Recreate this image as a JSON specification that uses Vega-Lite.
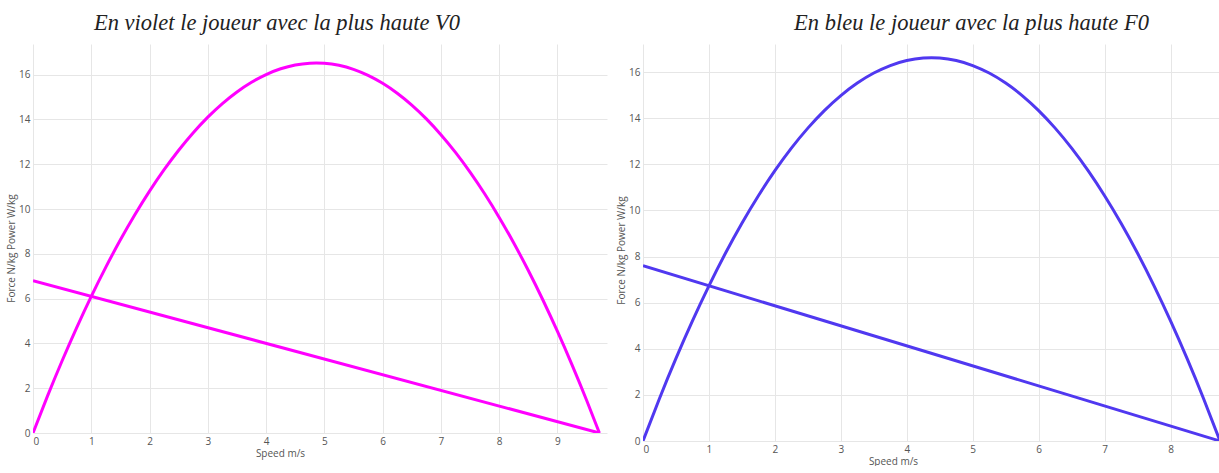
{
  "$schema": "https://vega.github.io/schema/vega-lite/v6.json",
  "background": "white",
  "padding": {"left": 6, "top": 11, "right": 0, "bottom": 0},
  "spacing": 9,
  "config": {
    "view": {"stroke": null},
    "axis": {
      "grid": true,
      "gridColor": "#e6e6e6",
      "gridWidth": 1,
      "domain": false,
      "ticks": false,
      "labelFont": "Open Sans",
      "labelFontSize": 10,
      "labelColor": "#555555",
      "labelPadding": 3,
      "titleFont": "Open Sans",
      "titleFontSize": 10,
      "titleFontWeight": "normal",
      "titleColor": "#555555",
      "titlePadding": 2
    },
    "title": {
      "font": "Liberation Serif",
      "fontSize": 22.5,
      "fontStyle": "italic",
      "fontWeight": "normal",
      "color": "#222222",
      "offset": 10
    }
  },
  "datasets": {
    "violet": [
      {"series": "power", "v": 0, "y": 0},
      {"series": "power", "v": 0.25, "y": 1.656},
      {"series": "power", "v": 0.5, "y": 3.225},
      {"series": "power", "v": 0.75, "y": 4.706},
      {"series": "power", "v": 1, "y": 6.1},
      {"series": "power", "v": 1.25, "y": 7.407},
      {"series": "power", "v": 1.5, "y": 8.626},
      {"series": "power", "v": 1.75, "y": 9.757},
      {"series": "power", "v": 2, "y": 10.802},
      {"series": "power", "v": 2.25, "y": 11.758},
      {"series": "power", "v": 2.5, "y": 12.628},
      {"series": "power", "v": 2.75, "y": 13.409},
      {"series": "power", "v": 3, "y": 14.104},
      {"series": "power", "v": 3.25, "y": 14.71},
      {"series": "power", "v": 3.5, "y": 15.23},
      {"series": "power", "v": 3.75, "y": 15.662},
      {"series": "power", "v": 4, "y": 16.006},
      {"series": "power", "v": 4.25, "y": 16.263},
      {"series": "power", "v": 4.5, "y": 16.433},
      {"series": "power", "v": 4.75, "y": 16.515},
      {"series": "power", "v": 5, "y": 16.51},
      {"series": "power", "v": 5.25, "y": 16.418},
      {"series": "power", "v": 5.5, "y": 16.238},
      {"series": "power", "v": 5.75, "y": 15.97},
      {"series": "power", "v": 6, "y": 15.615},
      {"series": "power", "v": 6.25, "y": 15.172},
      {"series": "power", "v": 6.5, "y": 14.643},
      {"series": "power", "v": 6.75, "y": 14.025},
      {"series": "power", "v": 7, "y": 13.32},
      {"series": "power", "v": 7.25, "y": 12.528},
      {"series": "power", "v": 7.5, "y": 11.648},
      {"series": "power", "v": 7.75, "y": 10.681},
      {"series": "power", "v": 8, "y": 9.626},
      {"series": "power", "v": 8.25, "y": 8.484},
      {"series": "power", "v": 8.5, "y": 7.255},
      {"series": "power", "v": 8.75, "y": 5.938},
      {"series": "power", "v": 9, "y": 4.533},
      {"series": "power", "v": 9.25, "y": 3.041},
      {"series": "power", "v": 9.5, "y": 1.462},
      {"series": "power", "v": 9.72, "y": 0},
      {"series": "force", "v": 0, "y": 6.8},
      {"series": "force", "v": 9.72, "y": 0}
    ],
    "bleu": [
      {"series": "power", "v": 0, "y": 0},
      {"series": "power", "v": 0.25, "y": 1.846},
      {"series": "power", "v": 0.5, "y": 3.583},
      {"series": "power", "v": 0.75, "y": 5.211},
      {"series": "power", "v": 1, "y": 6.731},
      {"series": "power", "v": 1.25, "y": 8.143},
      {"series": "power", "v": 1.5, "y": 9.446},
      {"series": "power", "v": 1.75, "y": 10.64},
      {"series": "power", "v": 2, "y": 11.726},
      {"series": "power", "v": 2.25, "y": 12.703},
      {"series": "power", "v": 2.5, "y": 13.571},
      {"series": "power", "v": 2.75, "y": 14.331},
      {"series": "power", "v": 3, "y": 14.983},
      {"series": "power", "v": 3.25, "y": 15.526},
      {"series": "power", "v": 3.5, "y": 15.96},
      {"series": "power", "v": 3.75, "y": 16.286},
      {"series": "power", "v": 4, "y": 16.503},
      {"series": "power", "v": 4.25, "y": 16.611},
      {"series": "power", "v": 4.5, "y": 16.611},
      {"series": "power", "v": 4.75, "y": 16.503},
      {"series": "power", "v": 5, "y": 16.286},
      {"series": "power", "v": 5.25, "y": 15.96},
      {"series": "power", "v": 5.5, "y": 15.526},
      {"series": "power", "v": 5.75, "y": 14.983},
      {"series": "power", "v": 6, "y": 14.331},
      {"series": "power", "v": 6.25, "y": 13.571},
      {"series": "power", "v": 6.5, "y": 12.703},
      {"series": "power", "v": 6.75, "y": 11.726},
      {"series": "power", "v": 7, "y": 10.64},
      {"series": "power", "v": 7.25, "y": 9.446},
      {"series": "power", "v": 7.5, "y": 8.143},
      {"series": "power", "v": 7.75, "y": 6.731},
      {"series": "power", "v": 8, "y": 5.211},
      {"series": "power", "v": 8.25, "y": 3.583},
      {"series": "power", "v": 8.5, "y": 1.846},
      {"series": "power", "v": 8.75, "y": 0},
      {"series": "force", "v": 0, "y": 7.6},
      {"series": "force", "v": 8.75, "y": 0}
    ]
  },
  "hconcat": [
    {
      "title": {"text": "En violet le joueur avec la plus haute V0", "anchor": "middle", "dx": -43},
      "width": 574,
      "height": 389,
      "data": {"name": "violet"},
      "mark": {"type": "line", "color": "#ff00ff", "strokeWidth": 3, "clip": true, "interpolate": "natural"},
      "encoding": {
        "x": {"field": "v", "type": "quantitative", "scale": {"domain": [0, 9.85], "nice": false},
              "axis": {"title": "Speed m/s", "values": [0,1,2,3,4,5,6,7,8,9], "titleX": 247}},
        "y": {"field": "y", "type": "quantitative", "scale": {"domain": [0, 17.37], "nice": false},
              "axis": {"title": "Force N/kg Power W/kg", "values": [0,2,4,6,8,10,12,14,16], "titleY": 204}},
        "detail": {"field": "series"},
        "order": {"field": "v"}
      }
    },
    {
      "title": {"text": "En bleu le joueur avec la plus haute F0", "anchor": "middle", "dx": 40},
      "width": 577,
      "height": 397,
      "data": {"name": "bleu"},
      "mark": {"type": "line", "color": "#5038f0", "strokeWidth": 3, "clip": true, "interpolate": "natural"},
      "encoding": {
        "x": {"field": "v", "type": "quantitative", "scale": {"domain": [0, 8.75], "nice": false},
              "axis": {"title": "Speed m/s", "values": [0,1,2,3,4,5,6,7,8], "titleX": 250}},
        "y": {"field": "y", "type": "quantitative", "scale": {"domain": [0, 17.22], "nice": false},
              "axis": {"title": "Force N/kg Power W/kg", "values": [0,2,4,6,8,10,12,14,16], "titleY": 206}},
        "detail": {"field": "series"},
        "order": {"field": "v"}
      }
    }
  ]
}
